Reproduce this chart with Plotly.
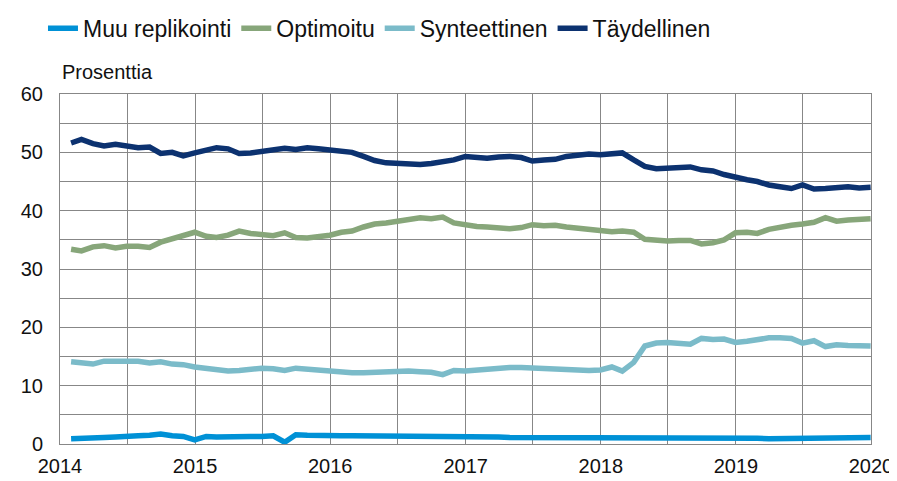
import pandas as pd
import plotly.graph_objects as go

months = pd.date_range("2014-01-31", "2019-12-31", freq="ME")

muu = [0.9, 0.9, 1.0, 1.1, 1.2, 1.2, 1.4, 1.5, 1.7, 1.4, 1.3, 0.7,
       1.3, 1.2, 1.3, 1.3, 1.3, 1.3, 1.4, 0.3, 1.6, 1.5, 1.4, 1.4,
       1.4, 1.4, 1.4, 1.4, 1.4, 1.4, 1.3, 1.3, 1.3, 1.3, 1.3, 1.3,
       1.2, 1.2, 1.2, 1.1, 1.1, 1.1, 1.1, 1.1, 1.2, 1.2, 1.2, 1.2,
       1.2, 1.2, 1.2, 1.1, 1.1, 1.1, 1.1, 1.1, 1.1, 1.1, 1.0, 1.0,
       1.0, 1.0, 0.9, 0.9, 1.0, 1.0, 1.0, 1.1, 1.1, 1.1, 1.1, 1.1]

optimoitu = [33.4, 33.1, 33.8, 34.0, 33.6, 33.9, 33.9, 33.7, 34.6, 35.2, 35.8, 36.3,
             35.6, 35.4, 35.8, 36.5, 36.1, 35.9, 35.7, 36.2, 35.4, 35.3, 35.5, 35.8,
             36.3, 36.5, 37.2, 37.7, 37.9, 38.2, 38.5, 38.8, 38.6, 38.9, 37.9, 37.5,
             37.3, 37.2, 37.0, 36.9, 37.1, 37.6, 37.4, 37.5, 37.2, 37.0, 36.8, 36.6,
             36.4, 36.5, 36.3, 35.1, 34.9, 34.8, 34.9, 34.9, 34.3, 34.5, 35.0, 36.2,
             36.3, 36.1, 36.8, 37.2, 37.5, 37.7, 38.0, 38.8, 38.2, 38.4, 38.5, 38.6]

synteettinen = [14.1, 13.8, 13.7, 14.2, 14.2, 14.2, 14.2, 13.9, 14.1, 13.7, 13.6, 13.2,
                12.9, 12.7, 12.5, 12.6, 12.9, 13.0, 12.9, 12.6, 13.0, 12.8, 12.6, 12.6,
                12.4, 12.2, 12.2, 12.3, 12.5, 12.6, 12.5, 12.4, 12.3, 11.9, 12.6, 12.5,
                12.7, 12.9, 13.0, 13.1, 13.1, 13.0, 13.1, 13.0, 12.8, 12.6, 12.6, 12.7,
                13.2, 12.5, 14.0, 16.8, 17.3, 17.4, 17.2, 17.1, 18.1, 17.9, 18.0, 17.4,
                17.6, 17.9, 18.2, 18.2, 18.1, 17.3, 17.7, 16.7, 17.0, 16.9, 16.9, 16.8]

taydellinen = [51.6, 52.2, 51.5, 51.1, 51.4, 51.1, 50.8, 50.9, 49.8, 50.0, 49.4, 49.9,
               50.4, 50.8, 50.6, 49.8, 49.9, 50.1, 50.5, 50.7, 50.5, 50.8, 50.6, 50.4,
               50.2, 50.0, 49.3, 48.6, 48.2, 48.1, 48.0, 47.9, 48.1, 48.3, 48.7, 49.3,
               49.1, 49.0, 49.2, 49.3, 49.1, 48.5, 48.7, 48.8, 49.3, 49.5, 49.7, 49.6,
               49.7, 49.9, 48.7, 47.6, 47.2, 47.3, 47.4, 47.5, 47.0, 46.8, 46.2, 45.7,
               45.3, 45.0, 44.4, 44.1, 43.8, 44.4, 43.7, 43.8, 44.0, 44.1, 43.9, 44.0]

series = [
    ("Muu replikointi", muu, "#0091D6"),
    ("Optimoitu", optimoitu, "#87A67A"),
    ("Synteettinen", synteettinen, "#7BBBC9"),
    ("Täydellinen", taydellinen, "#0C3270"),
]

half_ticks = []
for y in range(2014, 2021):
    half_ticks.append(f"{y}-01-01")
    if y < 2020:
        half_ticks.append(f"{y}-07-01")
half_text = [t[:4] if t.endswith("01-01") else "" for t in half_ticks]

y_vals = list(range(0, 61, 5))
y_text = [str(v) if v % 10 == 0 else "" for v in y_vals]

fig = go.Figure()
for name, vals, col in series:
    fig.add_trace(go.Scatter(x=months, y=vals, name=name, mode="lines",
                             line=dict(color=col, width=5.5)))

grid = "#878787"
font = "Liberation Sans, Arial, sans-serif"
fig.update_layout(
    width=897, height=481,
    margin=dict(l=52, r=26, t=86, b=38),
    paper_bgcolor="white", plot_bgcolor="white",
    font=dict(family=font, size=20, color="#111"),
    showlegend=True,
    legend=dict(orientation="h", xref="container", yref="container",
                x=0.039, y=0.958, yanchor="middle", xanchor="left",
                font=dict(size=23, family=font),
                itemwidth=30, bgcolor="rgba(0,0,0,0)"),
    xaxis=dict(type="date", range=["2014-01-01", "2020-01-01"],
               tickvals=half_ticks, ticktext=half_text, ticks="",
               showgrid=True, gridcolor=grid, gridwidth=1,
               showline=True, linecolor=grid, mirror=True,
               tickfont=dict(size=20), zeroline=False, ticklabelstandoff=4),
    yaxis=dict(range=[0, 60], tickvals=y_vals, ticktext=y_text, ticks="",
               showgrid=True, gridcolor=grid, gridwidth=1,
               showline=True, linecolor=grid, mirror=True,
               tickfont=dict(size=20), zeroline=False, ticklabelstandoff=12),
    annotations=[dict(text="Prosenttia", xref="paper", yref="paper", x=0, y=1.0,
                      xanchor="left", yanchor="bottom", yshift=9, showarrow=False,
                      font=dict(size=20, family=font))],
)

fig.write_html("out.html")
